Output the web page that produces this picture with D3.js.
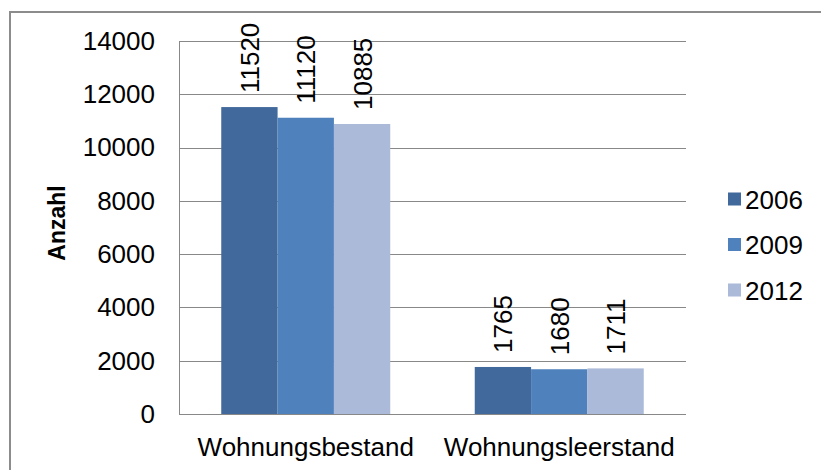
<!DOCTYPE html>
<html>
<head>
<meta charset="utf-8">
<script src="https://cdn.jsdelivr.net/npm/d3@7"></script>
<style>
  body { margin: 0; background: #fff; }
  svg text { font-family: "Liberation Sans", Arial, sans-serif; fill: #000; }
</style>
</head>
<body>
<figure id="bar" style="margin:0"></figure>
<script>
const categories = ["Wohnungsbestand", "Wohnungsleerstand"];
const years = ["2006", "2009", "2012"];
const values2006 = [11520, 1765];
const values2009 = [11120, 1680];
const values2012 = [10885, 1711];
const yTicks = [0, 2000, 4000, 6000, 8000, 10000, 12000, 14000];
const colors = ["#41699b", "#4f81bd", "#aabad8"];

const width = 821, height = 470;
const plot = { left: 179, right: 686, top: 41, bottom: 414 };

const svg = d3.select("figure#bar")
  .append("svg")
  .attr("width", width)
  .attr("height", height);

// chart frame
svg.append("rect")
  .attr("x", 10).attr("y", 12)
  .attr("width", 900).attr("height", 600)
  .attr("fill", "none")
  .attr("stroke", "#8c8c8c")
  .attr("stroke-width", 2);

const x0 = d3.scaleBand()
  .domain(categories)
  .range([plot.left, plot.right])
  .paddingInner(1 / 3)
  .paddingOuter(1 / 6);

const x1 = d3.scaleBand()
  .domain(years)
  .range([0, x0.bandwidth()]);

const y = d3.scaleLinear()
  .domain([0, 14000])
  .range([plot.bottom, plot.top]);

// gridlines
svg.append("g")
  .selectAll("line")
  .data(yTicks.filter(d => d > 0))
  .enter()
  .append("line")
  .attr("x1", plot.left).attr("x2", plot.right)
  .attr("y1", d => Math.round(y(d)) + 0.5)
  .attr("y2", d => Math.round(y(d)) + 0.5)
  .attr("stroke", "#888")
  .attr("stroke-width", 1);

// y axis labels
const yAxis = svg.append("g")
  .attr("transform", "translate(" + (plot.left - 24) + ",0)")
  .call(d3.axisLeft(y).tickValues(yTicks).tickSize(0).tickPadding(0).tickFormat(d3.format("d")));
yAxis.select(".domain").remove();
yAxis.selectAll("text")
  .style("font-family", "\"Liberation Sans\", Arial, sans-serif")
  .style("font-size", "26px")
  .attr("fill", "#000");

// bars
const series = [values2006, values2009, values2012];
const rows = [];
categories.forEach((c, i) => {
  years.forEach((yr, j) => {
    rows.push({ cat: c, year: yr, value: series[j][i], color: colors[j] });
  });
});

svg.append("g")
  .selectAll("rect")
  .data(rows)
  .enter()
  .append("rect")
  .attr("x", d => x0(d.cat) + x1(d.year))
  .attr("y", d => y(d.value))
  .attr("width", x1.bandwidth())
  .attr("height", d => plot.bottom - y(d.value))
  .attr("fill", d => d.color);

// value labels, rotated
svg.append("g")
  .selectAll("text")
  .data(rows)
  .enter()
  .append("text")
  .attr("transform", d => "translate(" + (x0(d.cat) + x1(d.year) + x1.bandwidth() / 2 + 9.5) + "," + (y(d.value) - 14) + ")rotate(-90)")
  .style("font-size", "26px")
  .text(d => d.value);

// axis lines
svg.append("line")
  .attr("x1", plot.left + 0.5).attr("x2", plot.left + 0.5)
  .attr("y1", plot.top).attr("y2", plot.bottom)
  .attr("stroke", "#888");
svg.append("line")
  .attr("x1", plot.left).attr("x2", plot.right)
  .attr("y1", plot.bottom + 0.5).attr("y2", plot.bottom + 0.5)
  .attr("stroke", "#888");

// category labels
svg.append("g")
  .selectAll("text")
  .data(categories)
  .enter()
  .append("text")
  .attr("x", d => x0(d) + x0.bandwidth() / 2)
  .attr("y", 456)
  .attr("text-anchor", "middle")
  .style("font-size", "26px")
  .text(d => d);

// y axis title
svg.append("text")
  .attr("transform", "translate(65,223)rotate(-90)")
  .attr("text-anchor", "middle")
  .style("font-size", "23px")
  .style("font-weight", "bold")
  .text("Anzahl");

// legend
const legend = svg.append("g")
  .selectAll("g")
  .data(years)
  .enter()
  .append("g")
  .attr("transform", (d, i) => "translate(728," + (199 + i * 45.5) + ")");
legend.append("rect")
  .attr("x", 0).attr("y", -6.5)
  .attr("width", 13).attr("height", 13)
  .attr("fill", (d, i) => colors[i]);
legend.append("text")
  .attr("x", 17).attr("y", 9.5)
  .style("font-size", "26px")
  .text(d => d);
</script>
</body>
</html>
